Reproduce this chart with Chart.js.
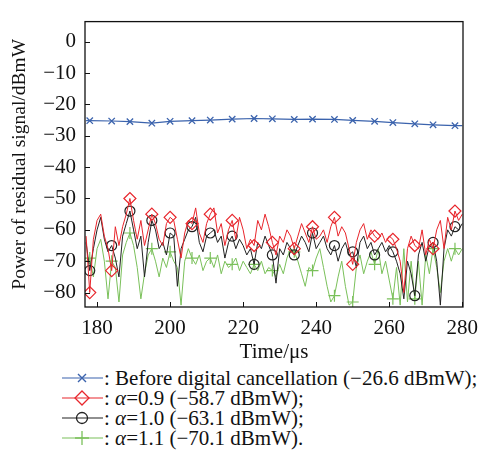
<!DOCTYPE html>
<html><head><meta charset="utf-8">
<script src="https://cdn.jsdelivr.net/npm/chart.js@4"></script>
<style>
html,body{margin:0;padding:0;background:#fff;}
#wrap{position:relative;width:488px;height:458px;overflow:hidden;}
#cbox{position:absolute;left:0;top:0;width:488px;height:365px;}
.leg{position:absolute;left:60px;height:20px;display:flex;align-items:center;font-family:"Liberation Serif","Times New Roman",serif;font-size:21px;color:#111;white-space:nowrap;}
.leg svg{width:44px;height:20px;display:block;}
</style></head><body>
<div id="wrap">
<div id="cbox"><canvas id="c"></canvas></div>
<div class="leg" style="top:368px"><svg viewBox="0 0 44 20"><line x1="2" y1="10" x2="43" y2="10" stroke="#3b63ad" stroke-width="1.2"/><path d="M18 6 L26 14 M26 6 L18 14" stroke="#3b63ad" stroke-width="1.4"/></svg><span>: Before digital cancellation (−26.6 dBmW);</span></div>
<div class="leg" style="top:388px"><svg viewBox="0 0 44 20"><line x1="2" y1="10" x2="43" y2="10" stroke="#e8262c" stroke-width="1.2"/><path d="M22 3 L29 10 L22 17 L15 10 Z" fill="none" stroke="#e8262c" stroke-width="1.3"/></svg><span>: <i>α</i>=0.9 (−58.7 dBmW);</span></div>
<div class="leg" style="top:408px"><svg viewBox="0 0 44 20"><line x1="2" y1="10" x2="43" y2="10" stroke="#222" stroke-width="1.2"/><circle cx="22" cy="10" r="5.5" fill="none" stroke="#222" stroke-width="1.3"/></svg><span>: <i>α</i>=1.0 (−63.1 dBmW);</span></div>
<div class="leg" style="top:428px"><svg viewBox="0 0 44 20"><line x1="2" y1="10" x2="43" y2="10" stroke="#7ac05a" stroke-width="1.2"/><path d="M22 3 L22 17 M15 10 L29 10" stroke="#7ac05a" stroke-width="1.3"/></svg><span>: <i>α</i>=1.1 (−70.1 dBmW).</span></div>
</div>
<script>
// ---- data ----
const times = [177,178,179,180,181,182,183,184,185,186,187,188,189,190,191,192,193,194,195,196,197,198,199,200,201,202,203,204,205,206,207,208,209,210,211,212,213,214,215,216,217,218,219,220,221,222,223,224,225,226,227,228,229,230,231,232,233,234,235,236,237,238,239,240,241,242,243,244,245,246,247,248,249,250,251,252,253,254,255,256,257,258,259,260,261,262,263,264,265,266,267,268,269,270,271,272,273,274,275,276,277,278,279,280];
const markerTimes = [178,184,189,195,200,206,211,217,223,228,234,239,245,250,256,261,267,272,278];
const beforeTimes = [177,178,184,189,195,200,206,211,217,223,228,234,239,245,250,256,261,267,272,278,280];
const beforeVals  = [-25.2,-25.2,-25.3,-25.5,-26.0,-25.4,-25.2,-25.0,-24.7,-24.5,-24.6,-24.8,-24.7,-24.8,-25.1,-25.4,-25.8,-26.2,-26.5,-26.8,-26.8];
const alpha09 = [-62,-80,-63,-57,-55,-62,-66,-73,-59,-65,-59,-55,-50,-57,-63,-57,-65,-60,-55,-58,-63,-65,-58,-56,-57,-63,-69,-61,-57,-58,-53,-61,-64,-58,-55,-53,-61,-58,-65,-60,-57,-63,-56,-60,-66,-63,-65,-57,-60,-55,-59,-64,-68,-62,-64,-60,-62,-66,-62,-58,-61,-64,-59,-63,-62,-60,-64,-59,-56,-62,-59,-61,-66,-71,-64,-60,-58,-63,-60,-62,-63,-61,-64,-62,-63,-66,-70,-80,-66,-62,-65,-66,-60,-68,-63,-66,-60,-57,-66,-56,-60,-54,-57,-55];
const alpha10 = [-64,-73,-66,-60,-56,-63,-67,-65,-69,-75,-62,-58,-54,-60,-66,-62,-75,-64,-57,-60,-66,-64,-68,-61,-62,-78,-66,-63,-60,-59,-56,-64,-67,-62,-61,-60,-64,-62,-69,-64,-62,-66,-63,-65,-68,-66,-71,-64,-66,-62,-65,-68,-77,-66,-68,-64,-66,-68,-65,-62,-64,-67,-61,-66,-64,-62,-66,-68,-65,-70,-66,-64,-68,-67,-72,-64,-62,-66,-64,-68,-66,-64,-67,-65,-67,-70,-74,-82,-70,-74,-81,-68,-64,-70,-65,-64,-70,-84,-66,-60,-62,-59,-60,-58];
const alpha11 = [-70,-69,-75,-66,-63,-70,-82,-70,-72,-83,-68,-64,-61,-65,-72,-82,-74,-68,-66,-70,-75,-69,-72,-67,-70,-72,-84,-70,-66,-69,-71,-68,-73,-70,-69,-72,-68,-74,-70,-72,-71,-69,-73,-70,-72,-74,-71,-73,-70,-74,-72,-73,-75,-71,-74,-69,-66,-67,-70,-74,-78,-72,-73,-69,-66,-72,-78,-83,-81,-75,-70,-78,-84,-83,-72,-68,-74,-70,-67,-71,-66,-74,-70,-76,-82,-72,-84,-66,-83,-70,-82,-70,-84,-68,-74,-66,-72,-80,-70,-66,-70,-66,-68,-66];
const xTicks = [180,200,220,240,260,280];
const yTicks = [0,-10,-20,-30,-40,-50,-60,-70,-80];

const FONT = '"Liberation Serif","Times New Roman",serif';
const pts = (xs, ys) => xs.map((x,i)=>({x:x,y:ys[i]}));
const mk = r => (ctx => markerTimes.includes(ctx.raw.x) ? r : 0);

const frame = {
  id:'frame',
  afterDraw(chart){
    const {ctx, chartArea:a, scales} = chart;
    ctx.save();
    ctx.strokeStyle = '#111'; ctx.lineWidth = 1.3;
    ctx.strokeRect(a.left, a.top, a.right-a.left, a.bottom-a.top);
    ctx.lineWidth = 1;
    ctx.beginPath();
    yTicks.forEach(v=>{const y=Math.round(scales.y.getPixelForValue(v))+0.5; ctx.moveTo(a.left, y); ctx.lineTo(a.left+5, y);});
    xTicks.forEach(v=>{const x=Math.round(scales.x.getPixelForValue(v))+0.5; ctx.moveTo(x, a.bottom); ctx.lineTo(x, a.bottom-5);});
    ctx.stroke();
    ctx.restore();
  }
};

new Chart(document.getElementById('c'), {
  type:'line',
  data:{datasets:[
    {label:'α=0.9', data:pts(times,alpha09), borderColor:'#e8262c', borderWidth:1, pointStyle:'rectRot', pointRadius:mk(6), pointBorderColor:'#e8262c', pointBackgroundColor:'rgba(0,0,0,0)', pointBorderWidth:1.2, order:1},
    {label:'α=1.0', data:pts(times,alpha10), borderColor:'#222', borderWidth:1, pointStyle:'circle', pointRadius:mk(5), pointBorderColor:'#222', pointBackgroundColor:'rgba(0,0,0,0)', pointBorderWidth:1.2, order:2},
    {label:'α=1.1', data:pts(times,alpha11), borderColor:'#7ac05a', borderWidth:1, pointStyle:'cross', pointRadius:mk(6), pointBorderColor:'#7ac05a', pointBorderWidth:1.2, order:3},
    {label:'Before', data:pts(beforeTimes,beforeVals), borderColor:'#3b63ad', borderWidth:1.2, pointStyle:'crossRot', pointRadius:(ctx=>markerTimes.includes(ctx.raw.x)?4.5:0), pointBorderColor:'#3b63ad', pointBorderWidth:1.3, order:0}
  ]},
  options:{
    responsive:true, maintainAspectRatio:false, animation:false,
    layout:{padding:{top:9,right:25,left:0,bottom:0}},
    plugins:{legend:{display:false}, tooltip:{enabled:false}},
    elements:{line:{tension:0}},
    scales:{
      x:{type:'linear', min:176.7, max:280.2,
        afterFit:s=>{s.height=58;},
        afterBuildTicks:s=>{s.ticks = xTicks.map(v=>({value:v}));},
        grid:{display:false, drawTicks:false}, border:{display:false},
        ticks:{padding:9, color:'#111', font:{family:FONT,size:21}, maxRotation:0, autoSkip:false},
        title:{display:true, text:'Time/μs', color:'#111', font:{family:FONT,size:21}, padding:{top:0,bottom:0}}
      },
      y:{type:'linear', min:-84.6, max:6.4,
        afterFit:s=>{s.width=85;},
        afterBuildTicks:s=>{s.ticks = yTicks.map(v=>({value:v}));},
        grid:{display:false, drawTicks:false}, border:{display:false},
        ticks:{padding:9, color:'#111', font:{family:FONT,size:21}, autoSkip:false, callback:v=> v<0 ? '−'+Math.abs(v) : String(v)},
        title:{display:true, text:'Power of residual signal/dBmW', color:'#111', font:{family:FONT,size:19.5}, padding:{top:8,bottom:0}}
      }
    }
  },
  plugins:[frame]
});
</script>
</body></html>
